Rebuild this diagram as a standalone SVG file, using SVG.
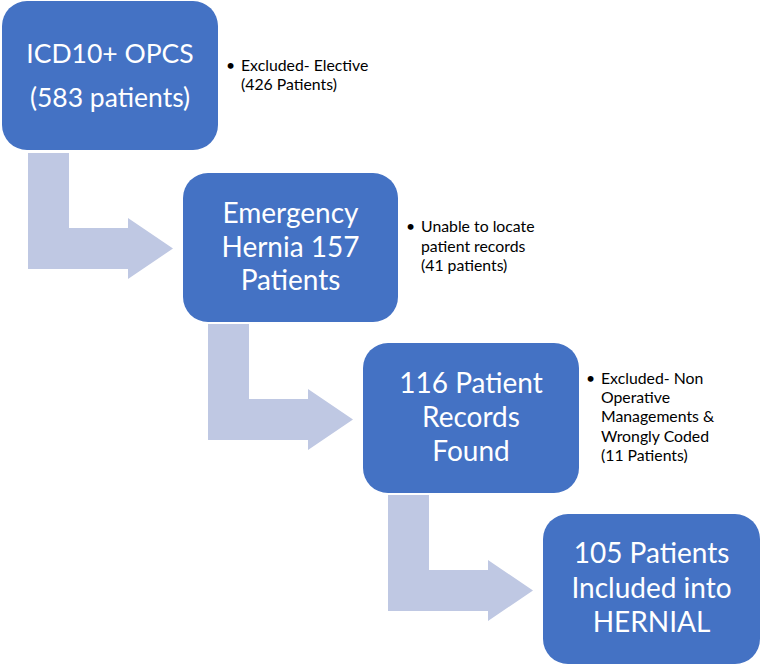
<svg xmlns="http://www.w3.org/2000/svg" width="762" height="669" viewBox="0 0 762 669">
<style>
.box{fill:#4472C4;}
.arrow{fill:#BFC8E3;}
.big{font-family:Lato,"Liberation Sans",sans-serif;fill:#ffffff;text-anchor:middle;font-size:28px;}
.side{font-family:Lato,"Liberation Sans",sans-serif;fill:#000000;font-size:15.8px;}
</style>
<rect width="762" height="669" fill="#ffffff"/>
<defs>
<path id="bent" class="arrow" d="M28,153 L69,153 L69,228 L128,228 L128,218 L173,248.5 L128,279 L128,269 L28,269 Z"/>
</defs>
<g id="connectors">
<use href="#bent"/>
<use href="#bent" transform="translate(180,171)"/>
<use href="#bent" transform="translate(360,342)"/>
</g>
<g id="node1">
<rect class="box" x="2" y="1" width="216" height="149" rx="25"/>
<text class="big" style="font-size:26.5px" x="110" y="63">ICD10+ OPCS</text>
<text class="big" style="font-size:26.5px" x="110" y="107">(583 patients)</text>
</g>
<g id="node2">
<rect class="box" x="183" y="173" width="215" height="149" rx="25"/>
<text class="big" x="290.5" y="223">Emergency</text>
<text class="big" x="290.5" y="257">Hernia 157</text>
<text class="big" x="290.5" y="290">Patients</text>
</g>
<g id="node3">
<rect class="box" x="363" y="343" width="216" height="150" rx="25"/>
<text class="big" x="471" y="393">116 Patient</text>
<text class="big" x="471" y="427">Records</text>
<text class="big" x="471" y="461">Found</text>
</g>
<g id="node4">
<rect class="box" x="543" y="514" width="217" height="150" rx="25"/>
<text class="big" x="651.5" y="563">105 Patients</text>
<text class="big" x="651.5" y="598">Included into</text>
<text class="big" x="651.5" y="632">HERNIAL</text>
</g>
<g id="label1" class="side">
<text x="226" y="71">•</text>
<text x="241" y="71">Excluded- Elective</text>
<text x="241" y="90">(426 Patients)</text>
</g>
<g id="label2" class="side">
<text x="406" y="232">•</text>
<text x="421" y="232">Unable to locate</text>
<text x="421" y="252">patient records</text>
<text x="421" y="271">(41 patients)</text>
</g>
<g id="label3" class="side">
<text x="586" y="384">•</text>
<text x="601" y="384">Excluded- Non</text>
<text x="601" y="403">Operative</text>
<text x="601" y="422">Managements &amp;</text>
<text x="601" y="442">Wrongly Coded</text>
<text x="601" y="461">(11 Patients)</text>
</g>
</svg>
